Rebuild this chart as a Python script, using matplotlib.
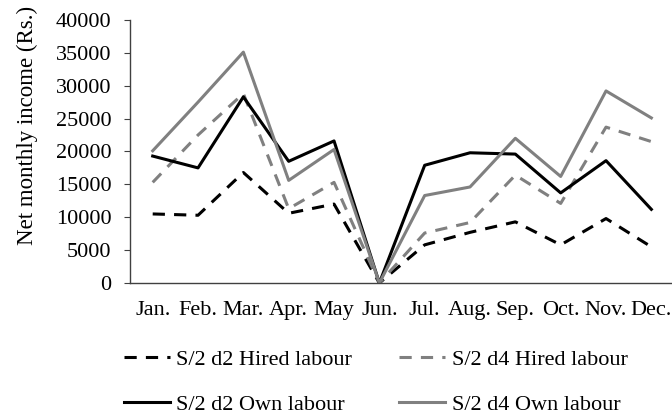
import matplotlib
matplotlib.use("Agg")
import matplotlib.pyplot as plt

# Monthly net income data (Rs.)
months = ["Jan.", "Feb.", "Mar.", "Apr.", "May", "Jun.",
          "Jul.", "Aug.", "Sep.", "Oct.", "Nov.", "Dec."]
d2_hired = [10500, 10300, 16800, 10600, 12000, 0, 5800, 7700, 9300, 5800, 9800, 5500]
d4_hired = [15300, 22500, 28800, 11300, 15300, 0, 7600, 9200, 16400, 12100, 23700, 21500]
d2_own = [19300, 17500, 28300, 18500, 21600, 0, 17900, 19800, 19600, 13700, 18600, 11200]
d4_own = [20100, 27500, 35100, 15600, 20300, 0, 13300, 14600, 22000, 16200, 29200, 25100]

plt.rcParams['font.family'] = ['Liberation Serif', 'DejaVu Serif']

fig = plt.figure(figsize=(6.72, 4.17), dpi=100)
ax = fig.add_axes([0.1935, 0.3213, 0.8095, 0.631])

x = list(range(len(months)))
lw = 2.2
l1, = ax.plot(x, d2_hired, color="black", lw=lw, dashes=(4, 3), label="S/2 d2 Hired labour")
l2, = ax.plot(x, d4_hired, color="#808080", lw=lw, dashes=(4, 3), label="S/2 d4 Hired labour")
l3, = ax.plot(x, d2_own, color="black", lw=lw, label="S/2 d2 Own labour")
l4, = ax.plot(x, d4_own, color="#808080", lw=lw, label="S/2 d4 Own labour")

ax.set_xlim(-0.5, len(months) - 0.5)
ax.set_ylim(0, 40000)
ax.set_yticks(range(0, 40001, 5000))
ax.set_xticks(x)
ax.set_xticklabels(months, fontsize=16)
ax.tick_params(axis='y', labelsize=16, length=4.3, pad=9, color="#404040")
ax.tick_params(axis='x', length=0, pad=13)
ax.set_ylabel("Net monthly income (Rs.)", fontsize=16.5)
ax.yaxis.set_label_coords(-0.169, 0.60)

for side in ["top", "right"]:
    ax.spines[side].set_visible(False)
for side in ["left", "bottom"]:
    ax.spines[side].set_color("#404040")
    ax.spines[side].set_linewidth(1.0)

fig.legend(handles=[l1, l3, l2, l4], ncol=2, loc="center",
           bbox_to_anchor=(0.559, 0.084), frameon=False, fontsize=16,
           handlelength=2.07, handletextpad=0.3, columnspacing=2.1,
           labelspacing=1.1)

fig.savefig("out.png", dpi=100)
